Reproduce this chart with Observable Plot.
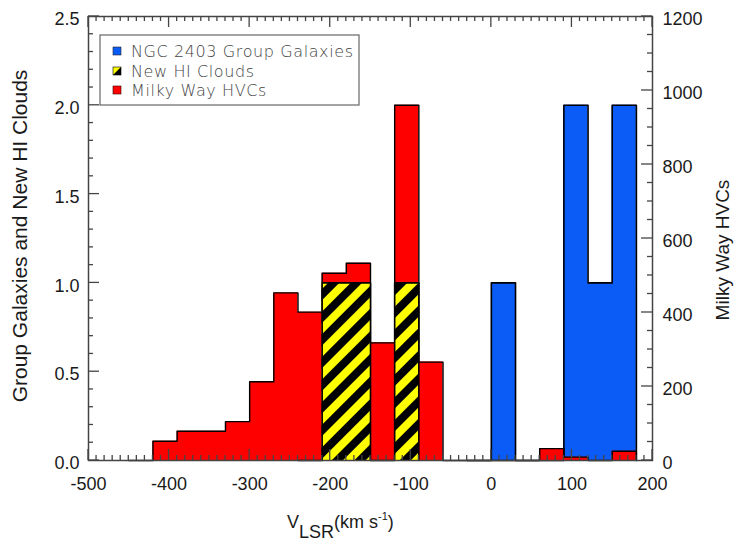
<!DOCTYPE html>
<html>
<head>
<meta charset="utf-8">
<script src="https://cdn.jsdelivr.net/npm/d3@7"></script>
<script src="https://cdn.jsdelivr.net/npm/@observablehq/plot@0.6"></script>
<style>
  body { margin: 0; background: #fff; }
  #chart svg { display: block; }
</style>
</head>
<body>
<div id="chart"></div>
<script>
// Velocity histograms, 30 km/s bins (bin start in km/s)
const binWidth = 30;

// Milky Way HVCs (right-hand axis, number of clouds)
const hvcBinStart = [-420, -390, -360, -330, -300, -270, -240, -210, -180, -150, -120, -90, 60, 90, 150];
const hvcCounts   = [  52,   79,   79,  105,  213,  453,  401,  506,  533,  318,  960, 266, 32,  9,  25];

// NGC 2403 group galaxies (left-hand axis)
const galaxyBinStart = [0, 90, 120, 150];
const galaxyCounts   = [1,  2,   1,   2];

// New HI clouds (left-hand axis)
const cloudBinStart = [-210, -180, -120];
const cloudCounts   = [   1,    1,    1];

// Axis ticks
const xTicks = [-500, -400, -300, -200, -100, 0, 100, 200];
const leftTicks = [0, 0.5, 1.0, 1.5, 2.0, 2.5];
const rightTicks = [0, 200, 400, 600, 800, 1000, 1200];
const rightMax = 1200, leftMax = 2.5;
const hvcPerUnit = rightMax / leftMax;

const seriesNames = ["NGC 2403 Group Galaxies", "New HI Clouds", "Milky Way HVCs"];
const colors = {galaxies: "#0b5cf6", hvc: "#ff0000", yellow: "#ffff00", ink: "#000"};

function bins(starts, values, scale = 1) {
  return starts.map((s, i) => ({x1: s, x2: s + binWidth, y: values[i] / scale}));
}

// Step outline of a histogram, dropping to zero over empty bins
function outline(bars) {
  const sorted = bars.slice().sort((a, b) => a.x1 - b.x1);
  const pts = [{x: sorted[0].x1 - binWidth, y: 0}, {x: sorted[0].x1, y: 0}];
  let prevEnd = sorted[0].x1;
  for (const b of sorted) {
    if (b.x1 > prevEnd) { pts.push({x: prevEnd, y: 0}, {x: b.x1, y: 0}); }
    pts.push({x: b.x1, y: b.y}, {x: b.x2, y: b.y});
    prevEnd = b.x2;
  }
  pts.push({x: prevEnd, y: 0});
  return pts;
}

const galaxies = outline(bins(galaxyBinStart, galaxyCounts));
const hvc = outline(bins(hvcBinStart, hvcCounts, hvcPerUnit));
const clouds = outline(bins(cloudBinStart, cloudCounts));

const minorX = d3.range(-500, 201, 10).filter(v => v % 100 !== 0);
const minorLeft = d3.range(0, 26).map(i => i / 10).filter((v, i) => i % 5 !== 0);
const minorRight = d3.range(0, rightMax + 1, 50).filter(v => v % 200 !== 0).map(v => v / hvcPerUnit);
const rightTickPos = rightTicks.map(v => v / hvcPerUnit);

const axisInk = "#444";
const majorLen = 11, minorLen = 5;

function histogram(pts, fill, width) {
  return [
    Plot.area(pts, {x1: "x", y1: 0, y2: "y", fill, curve: "linear"}),
    Plot.line(pts, {x: "x", y: "y", stroke: colors.ink, strokeWidth: width})
  ];
}

const svg = Plot.plot({
  width: 739,
  height: 544,
  marginLeft: 88,
  marginRight: 87,
  marginTop: 16,
  marginBottom: 84,
  style: {fontFamily: "'Liberation Sans', Arial, sans-serif", fontSize: "18px", color: "#1a1a1a", background: "#fff"},
  x: {domain: [-500, 200]},
  y: {domain: [0, leftMax]},
  marks: [
    histogram(galaxies, colors.galaxies, 1.6),
    histogram(hvc, colors.hvc, 1.4),
    histogram(clouds, "url(#hatch)", 1.6),
    Plot.axisX(xTicks, {anchor: "bottom", tickSize: 0, tickPadding: 17, tickFormat: d => String(d), label: null}),
    Plot.axisY(leftTicks, {anchor: "left", tickSize: 0, tickPadding: 9, dy: 3, tickFormat: d3.format(".1f"), label: null}),
    Plot.axisY(rightTickPos, {anchor: "right", tickSize: 0, tickPadding: 10, dy: 3, tickFormat: d => String(Math.round(d * hvcPerUnit)), label: null}),
    Plot.frame({stroke: axisInk, strokeWidth: 1.5})
  ]
});

const root = d3.select(svg);
const xs = svg.scale("x"), ys = svg.scale("y");
const [frameLeft, frameRight] = xs.range;
const [frameBottom, frameTop] = ys.range;

// inward-pointing tick marks on all four sides
const tickGroup = root.append("g").attr("stroke", axisInk).attr("stroke-width", 1.3);
function tickLines(values, scale, len, side) {
  for (const v of values) {
    const p = scale.apply(v);
    let a;
    if (side === "bottom") a = [p, frameBottom, p, frameBottom - len];
    else if (side === "top") a = [p, frameTop, p, frameTop + len];
    else if (side === "left") a = [frameLeft, p, frameLeft + len, p];
    else a = [frameRight, p, frameRight - len, p];
    tickGroup.append("line").attr("x1", a[0]).attr("y1", a[1]).attr("x2", a[2]).attr("y2", a[3]);
  }
}
tickLines(xTicks, xs, majorLen, "bottom");
tickLines(minorX, xs, minorLen, "bottom");
tickLines(xTicks, xs, majorLen, "top");
tickLines(minorX, xs, minorLen, "top");
tickLines(leftTicks, ys, majorLen, "left");
tickLines(minorLeft, ys, minorLen, "left");
tickLines(rightTickPos, ys, majorLen, "right");
tickLines(minorRight, ys, minorLen, "right");

// diagonal yellow/black hatching for the HI cloud bars
const defs = root.insert("defs", ":first-child");
const pat = defs.append("pattern")
  .attr("id", "hatch")
  .attr("patternUnits", "userSpaceOnUse")
  .attr("width", 16).attr("height", 16)
  .attr("patternTransform", "rotate(45)");
pat.append("rect").attr("width", 16).attr("height", 16).attr("fill", colors.yellow);
pat.append("rect").attr("width", 8).attr("height", 16).attr("fill", colors.ink);

// axis titles
const titleFont = "'Liberation Sans', Arial, sans-serif";
root.append("text")
  .attr("transform", "translate(27,236) rotate(-90)")
  .attr("text-anchor", "middle")
  .attr("font-family", titleFont).attr("font-size", 21).attr("fill", "#1a1a1a")
  .text("Group Galaxies and New HI Clouds");
root.append("text")
  .attr("transform", "translate(729,250) rotate(-90)")
  .attr("text-anchor", "middle")
  .attr("font-family", titleFont).attr("font-size", 19).attr("fill", "#1a1a1a")
  .text("Milky Way HVCs");
const xt = root.append("text")
  .attr("x", 287).attr("y", 528)
  .attr("text-anchor", "start")
  .attr("font-family", titleFont).attr("font-size", 18).attr("fill", "#1a1a1a");
xt.append("tspan").text("V");
xt.append("tspan").attr("dy", 10).text("LSR");
xt.append("tspan").attr("dy", -10).text("(km s");
xt.append("tspan").attr("dy", -8).attr("font-size", 11).text("-1");
xt.append("tspan").attr("dy", 8).text(")");

// legend
const lg = root.append("g");
lg.append("rect").attr("x", 100).attr("y", 35).attr("width", 259).attr("height", 70)
  .attr("fill", "#fff").attr("stroke", "#666").attr("stroke-width", 1.2);
const rowY = [51, 71, 90];
const sw = 8, swx = 113;
lg.append("rect").attr("x", swx).attr("y", rowY[0] - sw / 2).attr("width", sw).attr("height", sw)
  .attr("fill", colors.galaxies).attr("stroke", "#223").attr("stroke-width", 0.6);
lg.append("rect").attr("x", swx).attr("y", rowY[1] - sw / 2).attr("width", sw).attr("height", sw)
  .attr("fill", colors.yellow).attr("stroke", "#000").attr("stroke-width", 0.6);
lg.append("path")
  .attr("d", `M${swx + sw},${rowY[1] - sw / 2}L${swx + sw},${rowY[1] + sw / 2}L${swx},${rowY[1] + sw / 2}Z`)
  .attr("fill", colors.ink);
lg.append("rect").attr("x", swx).attr("y", rowY[2] - sw / 2).attr("width", sw).attr("height", sw)
  .attr("fill", colors.hvc).attr("stroke", "#300").attr("stroke-width", 0.6);
seriesNames.forEach((name, i) => {
  lg.append("text")
    .attr("x", 131).attr("y", rowY[i] + 6)
    .attr("text-anchor", "start")
    .attr("font-family", "'DejaVu Sans', sans-serif").attr("font-weight", 200)
    .attr("font-size", 16).attr("letter-spacing", 0.6).attr("fill", "#444")
    .text(name);
});

document.getElementById("chart").appendChild(svg);
</script>
</body>
</html>
